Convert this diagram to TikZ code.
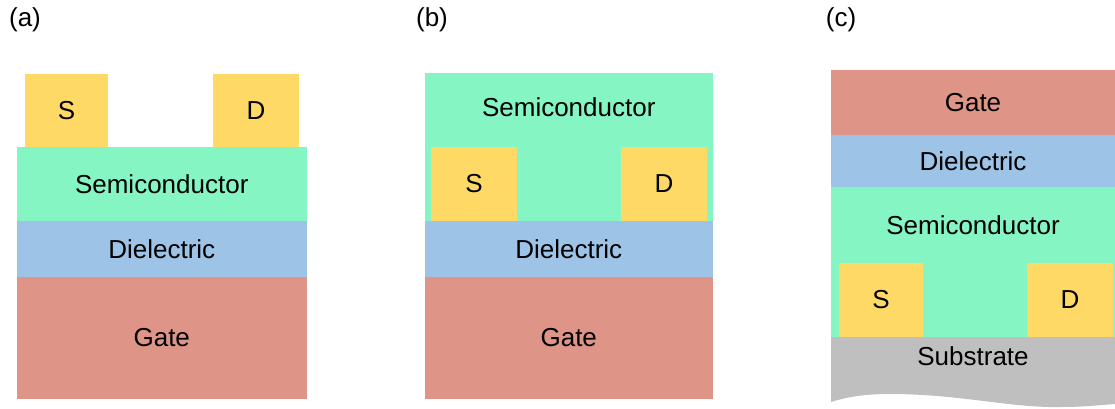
\documentclass[tikz,border=0pt]{standalone}
\usepackage{fontspec}
\setmainfont{Liberation Sans}
\definecolor{gatecol}{RGB}{222,149,135}
\definecolor{dielcol}{RGB}{157,195,230}
\definecolor{semicol}{RGB}{132,245,195}
\definecolor{contcol}{RGB}{255,217,102}
\definecolor{subcol}{RGB}{191,191,191}
\begin{document}
\begin{tikzpicture}[x=1pt,y=-1pt,
  font=\fontsize{26}{30}\selectfont,
  layer/.style={draw=none,inner sep=0pt,outer sep=0pt,rectangle},
  gatebox/.style={layer,fill=gatecol},
  dielbox/.style={layer,fill=dielcol},
  semibox/.style={layer,fill=semicol},
  contbox/.style={layer,fill=contcol},
  lbl/.style={inner sep=0pt}]
\useasboundingbox (0,0) rectangle (1115,408);

% (a) bottom gate, top contacts
\node[lbl] (la) at (25,20) {(a)};
\node[contbox,minimum width=83pt,minimum height=73pt] (aS) at (66.5,110.5) {S};
\node[contbox,minimum width=86pt,minimum height=73pt] (aD) at (256,110.5) {D};
\node[semibox,minimum width=289.5pt,minimum height=74pt] (aSemi) at (161.75,184) {Semiconductor};
\node[dielbox,minimum width=289.5pt,minimum height=56pt] (aDiel) at (161.75,249) {Dielectric};
\node[gatebox,minimum width=289.5pt,minimum height=121.5pt] (aGate) at (161.75,337.75) {Gate};

% (b) bottom gate, bottom contacts
\node[lbl] (lb) at (432,20) {(b)};
\node[semibox,minimum width=287.5pt,minimum height=148pt] (bSemi) at (568.75,147) {};
\node[lbl] (bSemiText) at (568.75,107) {Semiconductor};
\node[contbox,minimum width=86pt,minimum height=74pt] (bS) at (474,184) {S};
\node[contbox,minimum width=86pt,minimum height=74pt] (bD) at (664,184) {D};
\node[dielbox,minimum width=287.5pt,minimum height=56pt] (bDiel) at (568.75,249) {Dielectric};
\node[gatebox,minimum width=287.5pt,minimum height=121.5pt] (bGate) at (568.75,337.75) {Gate};

% (c) top gate, bottom contacts on a substrate
\node[lbl] (lc) at (841,20) {(c)};
\fill[subcol] (831,337) -- (1115,337) -- (1115,404)
  .. controls (1100,405) and (1085,407) .. (1060,407)
  .. controls (1010,408) and (960,394) .. (890,394)
  .. controls (868,394) and (850,396) .. (831,402) -- cycle;
\node[lbl] (cSub) at (973,356) {Substrate};
\node[gatebox,minimum width=284pt,minimum height=65pt] (cGate) at (973,102.5) {Gate};
\node[dielbox,minimum width=284pt,minimum height=52pt] (cDiel) at (973,161) {Dielectric};
\node[semibox,minimum width=284pt,minimum height=150pt] (cSemi) at (973,262) {};
\node[lbl] (cSemiText) at (973,225) {Semiconductor};
\node[contbox,minimum width=84pt,minimum height=74pt] (cS) at (881,300) {S};
\node[contbox,minimum width=86pt,minimum height=74pt] (cD) at (1070,300) {D};
\end{tikzpicture}
\end{document}
